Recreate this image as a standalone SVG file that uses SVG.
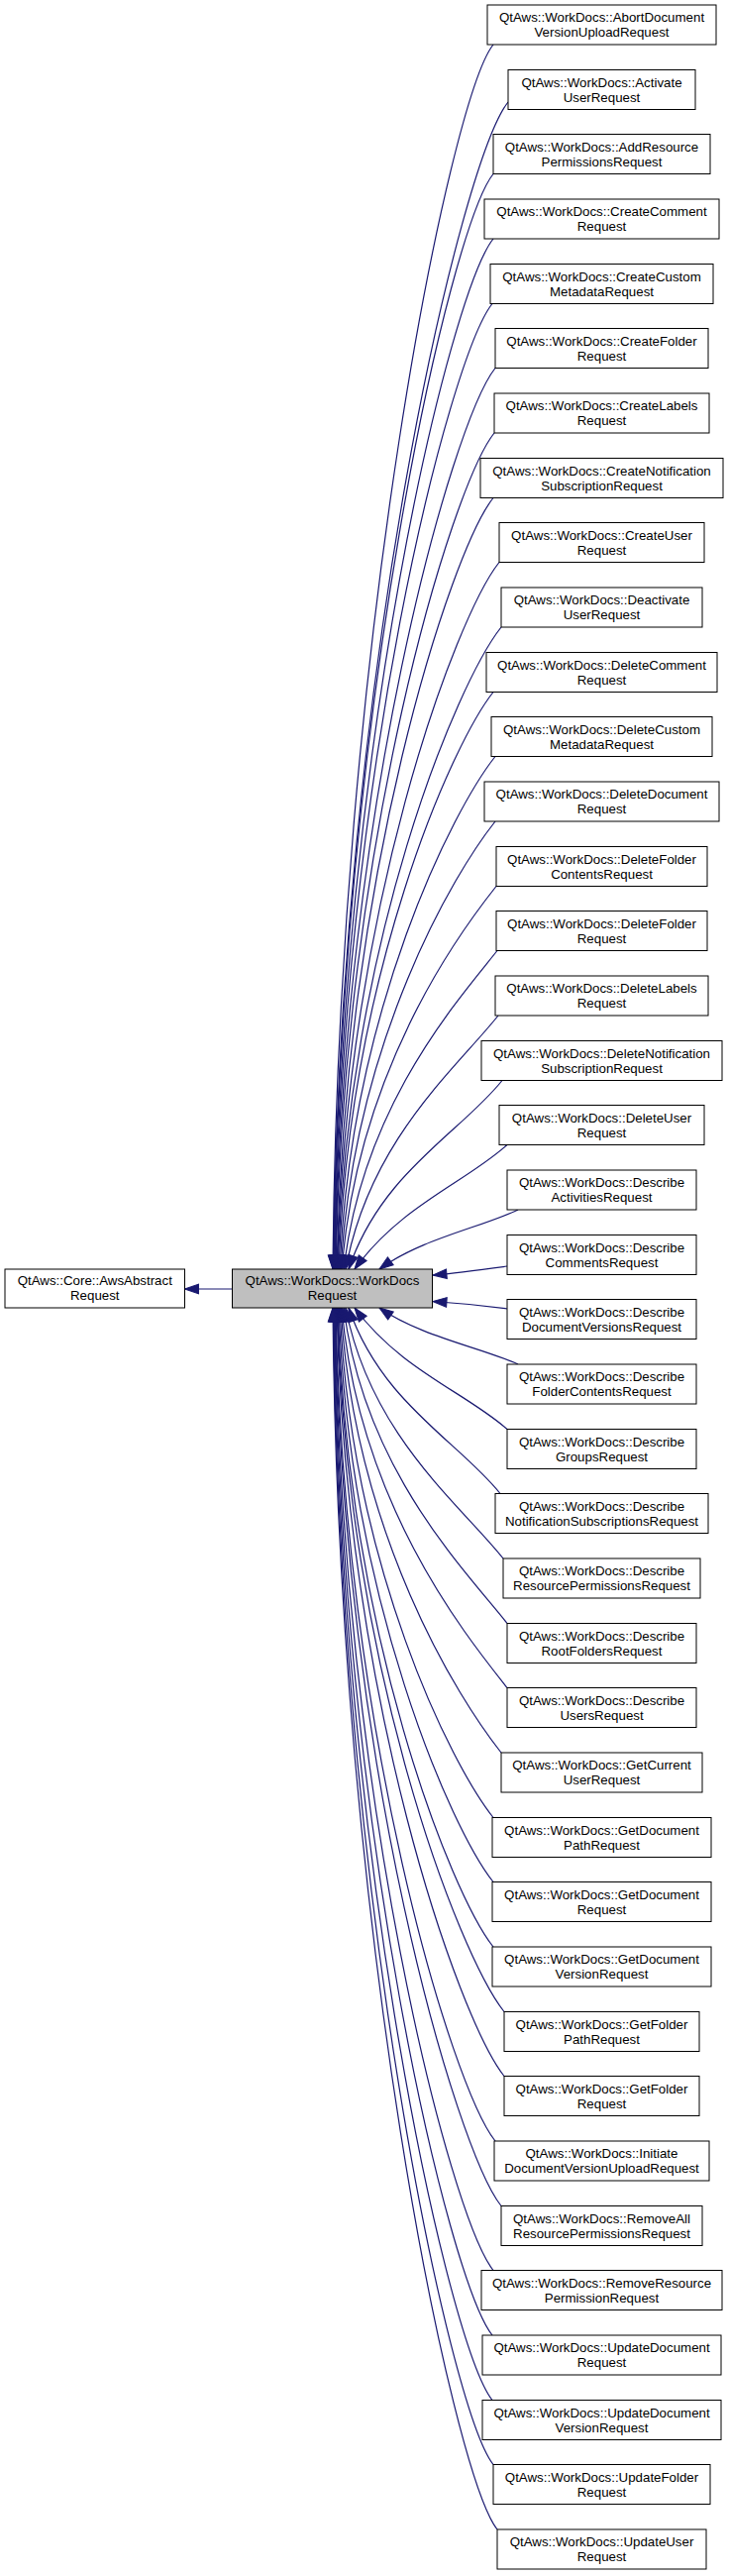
<svg xmlns="http://www.w3.org/2000/svg" width="736" height="2600" viewBox="0 0 736 2600">
<defs>
<style>
.n rect{fill:#ffffff;stroke:#000000;stroke-width:1}
.n rect.cur{fill:#bfbfbf}
text{font-family:"Liberation Sans",Arial,Helvetica,sans-serif;font-size:13.3px;text-anchor:middle;fill:#000000}
#edges path{fill:none;stroke:#191970;stroke-width:1.2;marker-end:url(#ah)}
</style>
<marker id="ah" markerUnits="userSpaceOnUse" markerWidth="15" markerHeight="11" viewBox="0 0 14 10" refX="13" refY="5" orient="auto" overflow="visible">
<path d="M0,0.5 L13,5 L0,9.5 z" fill="#191970" stroke="#191970" stroke-width="1"/>
</marker>
</defs>
<rect x="0" y="0" width="736" height="2600" fill="#ffffff"/>
<g id="edges">
<path d="M234.5,1301 L186.5,1301"/>
<path d="M498,45 C454.3,100 341.2,650.6 336,1281"/>
<path d="M513,103 C465.3,163 342.5,680.2 336.5,1281"/>
<path d="M498,175.5 C454.5,230.2 342.8,717.2 337,1281"/>
<path d="M498,241 C454.7,295.6 343.7,750.6 337.5,1281"/>
<path d="M497,306.5 C454.1,360.6 344.5,784 338,1281"/>
<path d="M500,371.5 C456.4,426.4 345.6,817.2 338.5,1281"/>
<path d="M499,437 C455.8,491.4 346.6,850.6 339,1281"/>
<path d="M498,502.5 C455.3,556.2 348.1,884 340,1281"/>
<path d="M504,567.5 C459.9,623.1 349.7,917.1 340.5,1281"/>
<path d="M506,633 C461.4,689.1 351.2,950.5 341,1281"/>
<path d="M498,698.5 C455.9,751.5 352.7,983.9 342,1281"/>
<path d="M500,763.5 C457.6,816.9 355.1,1017.1 343,1281"/>
<path d="M500,829 C457.9,882 357.8,1050.5 344,1281"/>
<path d="M501,894.5 C458.9,947.5 361.1,1083.9 345,1281"/>
<path d="M502,959.5 C460.1,1012.2 366.3,1117 347,1281"/>
<path d="M503,1025 C461.4,1077.4 373.1,1150.4 349,1281"/>
<path d="M507,1090.5 C465.1,1143.2 384.5,1183.8 352,1281"/>
<path d="M512,1155.5 C470.4,1193.2 404.2,1217 358,1281"/>
<path d="M523,1221 C485.2,1239 425,1250.4 383,1281"/>
<path d="M512,1278 C490,1281 460,1285 437,1287"/>
<path d="M512,1321 C490,1318 460,1315 437,1313.5"/>
<path d="M523,1377 C485.2,1359.9 425,1349.1 383,1320"/>
<path d="M512,1442.5 C470.4,1405.7 404.2,1382.5 358,1320"/>
<path d="M505,1507.5 C463.7,1455.5 384.6,1415.6 352,1320"/>
<path d="M508,1573 C465.1,1518.9 374.1,1449 349,1320"/>
<path d="M512,1638.5 C467.4,1582.4 367.7,1482.4 347,1320"/>
<path d="M512,1703.5 C466.9,1646.7 362.4,1515.6 345,1320"/>
<path d="M506,1769 C462.3,1713.9 358.4,1549 344,1320"/>
<path d="M498,1834.5 C456.1,1781.8 355,1582.4 343,1320"/>
<path d="M498,1899.5 C455.9,1846.5 352.8,1615.5 342,1320"/>
<path d="M498,1965 C455.6,1911.6 350.7,1649 341,1320"/>
<path d="M509,2030.5 C463.5,1973.2 350,1682.4 340.5,1320"/>
<path d="M509,2095.5 C463.4,2038 348.7,1715.5 340,1320"/>
<path d="M500,2161 C456.5,2106.3 346.7,1748.9 339,1320"/>
<path d="M506,2226.5 C460.8,2169.5 345.9,1782.3 338.5,1320"/>
<path d="M498,2291.5 C454.8,2237.1 344.6,1815.5 338,1320"/>
<path d="M497,2357 C453.9,2302.8 343.7,1848.9 337.5,1320"/>
<path d="M497,2422.5 C453.8,2368.1 342.8,1882.3 337,1320"/>
<path d="M498,2487.5 C454.4,2432.6 342,1915.4 336.5,1320"/>
<path d="M502,2553 C457.2,2496.6 341.4,1948.8 336,1320"/>
</g>
<g id="node_awsabstract" class="n"><rect x="5" y="1281" width="181.5" height="39"/><text x="95.75" y="1297">QtAws::Core::AwsAbstract</text><text x="95.75" y="1312">Request</text></g>
<g id="node_workdocsrequest" class="n"><rect class="cur" x="234.5" y="1281" width="202" height="39"/><text x="335.5" y="1297">QtAws::WorkDocs::WorkDocs</text><text x="335.5" y="1312">Request</text></g>
<g id="node_k0" class="n"><rect x="492" y="5" width="231" height="40"/><text x="607.5" y="22">QtAws::WorkDocs::AbortDocument</text><text x="607.5" y="37">VersionUploadRequest</text></g>
<g id="node_k1" class="n"><rect x="513" y="70.5" width="189" height="40"/><text x="607.5" y="87.5">QtAws::WorkDocs::Activate</text><text x="607.5" y="102.5">UserRequest</text></g>
<g id="node_k2" class="n"><rect x="498" y="135.5" width="219" height="40"/><text x="607.5" y="152.5">QtAws::WorkDocs::AddResource</text><text x="607.5" y="167.5">PermissionsRequest</text></g>
<g id="node_k3" class="n"><rect x="489" y="201" width="237" height="40"/><text x="607.5" y="218">QtAws::WorkDocs::CreateComment</text><text x="607.5" y="233">Request</text></g>
<g id="node_k4" class="n"><rect x="495" y="266.5" width="225" height="40"/><text x="607.5" y="283.5">QtAws::WorkDocs::CreateCustom</text><text x="607.5" y="298.5">MetadataRequest</text></g>
<g id="node_k5" class="n"><rect x="500" y="331.5" width="215" height="40"/><text x="607.5" y="348.5">QtAws::WorkDocs::CreateFolder</text><text x="607.5" y="363.5">Request</text></g>
<g id="node_k6" class="n"><rect x="499" y="397" width="217" height="40"/><text x="607.5" y="414">QtAws::WorkDocs::CreateLabels</text><text x="607.5" y="429">Request</text></g>
<g id="node_k7" class="n"><rect x="485" y="462.5" width="245" height="40"/><text x="607.5" y="479.5">QtAws::WorkDocs::CreateNotification</text><text x="607.5" y="494.5">SubscriptionRequest</text></g>
<g id="node_k8" class="n"><rect x="504" y="527.5" width="207" height="40"/><text x="607.5" y="544.5">QtAws::WorkDocs::CreateUser</text><text x="607.5" y="559.5">Request</text></g>
<g id="node_k9" class="n"><rect x="506" y="593" width="203" height="40"/><text x="607.5" y="610">QtAws::WorkDocs::Deactivate</text><text x="607.5" y="625">UserRequest</text></g>
<g id="node_k10" class="n"><rect x="491" y="658.5" width="233" height="40"/><text x="607.5" y="675.5">QtAws::WorkDocs::DeleteComment</text><text x="607.5" y="690.5">Request</text></g>
<g id="node_k11" class="n"><rect x="496" y="723.5" width="223" height="40"/><text x="607.5" y="740.5">QtAws::WorkDocs::DeleteCustom</text><text x="607.5" y="755.5">MetadataRequest</text></g>
<g id="node_k12" class="n"><rect x="489" y="789" width="237" height="40"/><text x="607.5" y="806">QtAws::WorkDocs::DeleteDocument</text><text x="607.5" y="821">Request</text></g>
<g id="node_k13" class="n"><rect x="501" y="854.5" width="213" height="40"/><text x="607.5" y="871.5">QtAws::WorkDocs::DeleteFolder</text><text x="607.5" y="886.5">ContentsRequest</text></g>
<g id="node_k14" class="n"><rect x="501" y="919.5" width="213" height="40"/><text x="607.5" y="936.5">QtAws::WorkDocs::DeleteFolder</text><text x="607.5" y="951.5">Request</text></g>
<g id="node_k15" class="n"><rect x="500" y="985" width="215" height="40"/><text x="607.5" y="1002">QtAws::WorkDocs::DeleteLabels</text><text x="607.5" y="1017">Request</text></g>
<g id="node_k16" class="n"><rect x="486" y="1050.5" width="243" height="40"/><text x="607.5" y="1067.5">QtAws::WorkDocs::DeleteNotification</text><text x="607.5" y="1082.5">SubscriptionRequest</text></g>
<g id="node_k17" class="n"><rect x="504" y="1115.5" width="207" height="40"/><text x="607.5" y="1132.5">QtAws::WorkDocs::DeleteUser</text><text x="607.5" y="1147.5">Request</text></g>
<g id="node_k18" class="n"><rect x="512" y="1181" width="191" height="40"/><text x="607.5" y="1198">QtAws::WorkDocs::Describe</text><text x="607.5" y="1213">ActivitiesRequest</text></g>
<g id="node_k19" class="n"><rect x="512" y="1246.5" width="191" height="40"/><text x="607.5" y="1263.5">QtAws::WorkDocs::Describe</text><text x="607.5" y="1278.5">CommentsRequest</text></g>
<g id="node_k20" class="n"><rect x="512" y="1311.5" width="191" height="40"/><text x="607.5" y="1328.5">QtAws::WorkDocs::Describe</text><text x="607.5" y="1343.5">DocumentVersionsRequest</text></g>
<g id="node_k21" class="n"><rect x="512" y="1377" width="191" height="40"/><text x="607.5" y="1394">QtAws::WorkDocs::Describe</text><text x="607.5" y="1409">FolderContentsRequest</text></g>
<g id="node_k22" class="n"><rect x="512" y="1442.5" width="191" height="40"/><text x="607.5" y="1459.5">QtAws::WorkDocs::Describe</text><text x="607.5" y="1474.5">GroupsRequest</text></g>
<g id="node_k23" class="n"><rect x="500" y="1507.5" width="215" height="40"/><text x="607.5" y="1524.5">QtAws::WorkDocs::Describe</text><text x="607.5" y="1539.5">NotificationSubscriptionsRequest</text></g>
<g id="node_k24" class="n"><rect x="508" y="1573" width="199" height="40"/><text x="607.5" y="1590">QtAws::WorkDocs::Describe</text><text x="607.5" y="1605">ResourcePermissionsRequest</text></g>
<g id="node_k25" class="n"><rect x="512" y="1638.5" width="191" height="40"/><text x="607.5" y="1655.5">QtAws::WorkDocs::Describe</text><text x="607.5" y="1670.5">RootFoldersRequest</text></g>
<g id="node_k26" class="n"><rect x="512" y="1703.5" width="191" height="40"/><text x="607.5" y="1720.5">QtAws::WorkDocs::Describe</text><text x="607.5" y="1735.5">UsersRequest</text></g>
<g id="node_k27" class="n"><rect x="506" y="1769" width="203" height="40"/><text x="607.5" y="1786">QtAws::WorkDocs::GetCurrent</text><text x="607.5" y="1801">UserRequest</text></g>
<g id="node_k28" class="n"><rect x="497" y="1834.5" width="221" height="40"/><text x="607.5" y="1851.5">QtAws::WorkDocs::GetDocument</text><text x="607.5" y="1866.5">PathRequest</text></g>
<g id="node_k29" class="n"><rect x="497" y="1899.5" width="221" height="40"/><text x="607.5" y="1916.5">QtAws::WorkDocs::GetDocument</text><text x="607.5" y="1931.5">Request</text></g>
<g id="node_k30" class="n"><rect x="497" y="1965" width="221" height="40"/><text x="607.5" y="1982">QtAws::WorkDocs::GetDocument</text><text x="607.5" y="1997">VersionRequest</text></g>
<g id="node_k31" class="n"><rect x="509" y="2030.5" width="197" height="40"/><text x="607.5" y="2047.5">QtAws::WorkDocs::GetFolder</text><text x="607.5" y="2062.5">PathRequest</text></g>
<g id="node_k32" class="n"><rect x="509" y="2095.5" width="197" height="40"/><text x="607.5" y="2112.5">QtAws::WorkDocs::GetFolder</text><text x="607.5" y="2127.5">Request</text></g>
<g id="node_k33" class="n"><rect x="499" y="2161" width="217" height="40"/><text x="607.5" y="2178">QtAws::WorkDocs::Initiate</text><text x="607.5" y="2193">DocumentVersionUploadRequest</text></g>
<g id="node_k34" class="n"><rect x="506" y="2226.5" width="203" height="40"/><text x="607.5" y="2243.5">QtAws::WorkDocs::RemoveAll</text><text x="607.5" y="2258.5">ResourcePermissionsRequest</text></g>
<g id="node_k35" class="n"><rect x="486" y="2291.5" width="243" height="40"/><text x="607.5" y="2308.5">QtAws::WorkDocs::RemoveResource</text><text x="607.5" y="2323.5">PermissionRequest</text></g>
<g id="node_k36" class="n"><rect x="487" y="2357" width="241" height="40"/><text x="607.5" y="2374">QtAws::WorkDocs::UpdateDocument</text><text x="607.5" y="2389">Request</text></g>
<g id="node_k37" class="n"><rect x="487" y="2422.5" width="241" height="40"/><text x="607.5" y="2439.5">QtAws::WorkDocs::UpdateDocument</text><text x="607.5" y="2454.5">VersionRequest</text></g>
<g id="node_k38" class="n"><rect x="498" y="2487.5" width="219" height="40"/><text x="607.5" y="2504.5">QtAws::WorkDocs::UpdateFolder</text><text x="607.5" y="2519.5">Request</text></g>
<g id="node_k39" class="n"><rect x="502" y="2553" width="211" height="40"/><text x="607.5" y="2570">QtAws::WorkDocs::UpdateUser</text><text x="607.5" y="2585">Request</text></g>
</svg>
